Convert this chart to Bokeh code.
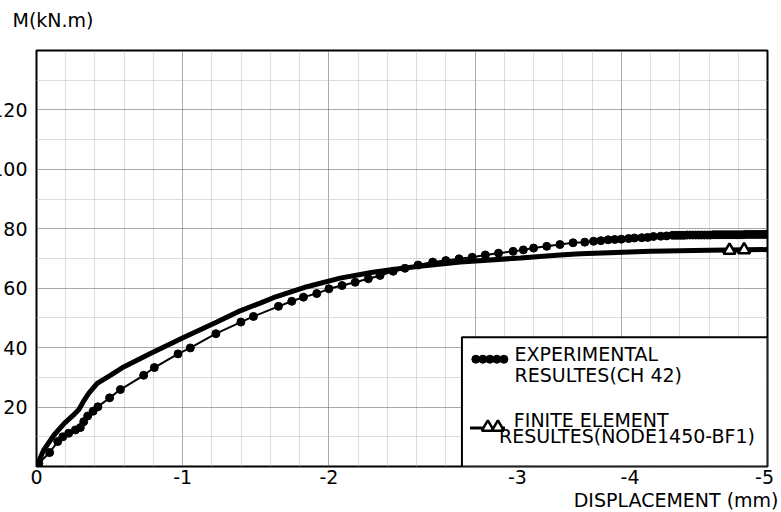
from bokeh.plotting import figure
from bokeh.models import Grid, FixedTicker, Label, LinearAxis, Title
from bokeh.embed import file_html
from bokeh.resources import INLINE

# ---------------- data ----------------
exp_x = [0, -0.016, -0.09, -0.145, -0.18, -0.22, -0.266, -0.30, -0.323, -0.35,
         -0.387, -0.42, -0.50, -0.574, -0.733, -0.806, -0.968, -1.052, -1.227,
         -1.398, -1.484, -1.655, -1.746, -1.826, -1.917, -2.00, -2.09, -2.18,
         -2.27, -2.35, -2.44, -2.52, -2.61, -2.71, -2.80, -2.89, -2.98, -3.07,
         -3.16, -3.26, -3.33, -3.40, -3.49, -3.58, -3.67, -3.75, -3.81, -3.86,
         -3.91, -3.955, -4.00, -4.05, -4.09, -4.14, -4.18, -4.22, -4.27, -4.31,
         -4.35, -4.37, -4.39, -4.41, -4.43, -4.45, -4.47, -4.49, -4.51, -4.53,
         -4.55, -4.57, -4.59, -4.61, -4.63, -4.65, -4.67, -4.69, -4.71, -4.73,
         -4.75, -4.77, -4.79, -4.81, -4.83, -4.85, -4.87, -4.89, -4.91, -4.93,
         -4.95, -4.97, -4.99]
exp_y = [0, 1.1, 4.7, 8.4, 10.0, 11.2, 12.3, 13.1, 15.1, 17.0,
         18.6, 20.1, 23.1, 25.9, 30.7, 33.3, 37.9, 39.9, 44.7,
         48.6, 50.5, 53.9, 55.6, 57.0, 58.2, 59.8, 60.9, 62.0,
         63.2, 64.3, 65.7, 66.7, 67.8, 68.8, 69.3, 69.9, 70.4, 71.2,
         71.8, 72.4, 72.9, 73.5, 74.1, 74.7, 75.3, 75.5, 75.8, 76.0,
         76.3, 76.4, 76.5, 76.7, 76.9, 77.0, 77.1, 77.4, 77.5, 77.6,
         77.8, 77.8, 77.8, 77.8, 77.8, 77.9, 77.9, 77.9, 77.9, 77.9,
         77.9, 77.9, 77.9, 77.9, 78.0, 78.0, 78.0, 78.0, 78.0, 78.0,
         78.0, 78.0, 78.0, 78.0, 78.0, 78.1, 78.1, 78.1, 78.1, 78.1,
         78.1, 78.1, 78.1]

fe_x = [0, -0.05, -0.12, -0.19, -0.25, -0.29, -0.32, -0.357, -0.415, -0.505,
        -0.596, -0.779, -1.006, -1.234, -1.393, -1.53, -1.62, -1.85, -2.077,
        -2.30, -2.49, -2.62, -2.90, -3.31, -3.58, -3.72, -4.2, -4.6, -5.0]
fe_y = [0, 5.6, 10.6, 14.5, 17.2, 19.2, 21.8, 24.6, 28.0, 30.7,
        33.5, 38.0, 43.4, 48.6, 52.4, 55.0, 56.8, 60.5, 63.4,
        65.4, 66.6, 67.4, 68.8, 70.2, 71.2, 71.6, 72.4, 72.8, 73.0]
fe_mark_x = [-4.74, -4.84]
fe_mark_y = [72.8, 72.9]

x_tick_labels = ["0", "-1", "-2", "-3", "-4", "-5"]
x_tick_label_pos = [0, -1, -2, -3.29, -4.06, -4.98]   # where the reference prints them
y_tick_values = [20, 40, 60, 80, 100, 120]

exp_name = ["EXPERIMENTAL", "RESULTES(CH 42)"]
fe_name = ["FINITE ELEMENT", "RESULTES(NODE1450-BF1)"]
x_title = "DISPLACEMENT (mm)"
y_title = "M(kN.m)"

FONT = "DejaVu Sans"
FS = "19px"
SHIFT = 13   # the reference cuts the left edge of the "120"/"100" labels

p = figure(width=781 + SHIFT, height=512, x_range=(0, -5), y_range=(0, 140),
           x_axis_type=None, y_axis_type=None,
           output_backend="svg", toolbar_location=None,
           min_border_left=36 + SHIFT, min_border_right=14,
           min_border_top=50, min_border_bottom=46)
p.styles = {"margin-left": f"-{SHIFT}px"}
p.background_fill_color = "white"
p.border_fill_color = "white"
p.outline_line_color = "black"
p.outline_line_width = 2

# ---- grids ----
x_major = [-1, -2, -3, -4]
x_minor = [-(i * 0.2) for i in range(1, 25) if i % 5]
y_major = [20, 40, 60, 80, 100, 120]
y_minor = [10, 30, 50, 70, 90, 110, 130]
for dim, maj, mnr in ((0, x_major, x_minor), (1, y_major, y_minor)):
    g = Grid(dimension=dim, ticker=FixedTicker(ticks=maj, minor_ticks=mnr))
    g.grid_line_color = "#555555"
    g.grid_line_dash = "1 1"
    g.grid_line_width = 1
    g.minor_grid_line_color = "#bbbbbb"
    g.minor_grid_line_dash = "1 1"
    g.minor_grid_line_width = 1
    p.add_layout(g)

# ---- axes ----
def style_axis(ax, size):
    ax.axis_line_color = None
    ax.major_tick_line_color = None
    ax.minor_tick_line_color = None
    ax.major_tick_in = 0
    ax.major_tick_out = 0
    ax.minor_tick_in = 0
    ax.minor_tick_out = 0
    ax.major_label_text_font = FONT
    ax.major_label_text_font_size = size
    ax.major_label_text_color = "black"

yax = LinearAxis(ticker=FixedTicker(ticks=y_tick_values))
style_axis(yax, FS)
yax.major_label_standoff = 9
p.add_layout(yax, "left")

xax = LinearAxis(ticker=FixedTicker(ticks=x_tick_label_pos),
                 major_label_overrides={pos: t for pos, t in zip(x_tick_label_pos, x_tick_labels)})
style_axis(xax, FS)
xax.major_label_standoff = 3
p.add_layout(xax, "below")

p.add_layout(Title(text=x_title, align="right", offset=-11, standoff=0,
                   text_font=FONT, text_font_size=FS, text_font_style="normal",
                   text_color="black"), "below")
# spacer next to the frame, then the y-axis title above it
p.add_layout(Title(text=" ", text_font_size="1px", standoff=17), "above")
p.add_layout(Title(text=y_title, align="left", offset=-24, standoff=0,
                   text_font=FONT, text_font_size=FS, text_font_style="normal",
                   text_color="black"), "above")

# ---- data marks ----
p.line(fe_x, fe_y, line_width=5, color="black")
p.line(exp_x, exp_y, line_width=2, color="black")
p.scatter(exp_x, exp_y, size=8, color="black")
p.scatter(fe_mark_x, fe_mark_y, marker="triangle", size=12, fill_color="white",
          line_color="black", line_width=2.5)

# ---- legend (drawn by hand: multi-line labels, row-of-dots sample) ----
p.quad(left=[-2.91], right=[-5.0], bottom=[0], top=[43.5], fill_color="white",
       line_color="black", line_width=2)
leg_dot_x = [-3.005, -3.053, -3.101, -3.149, -3.197]
p.line([leg_dot_x[0], leg_dot_x[-1]], [36.1, 36.1], line_width=2, color="black")
p.scatter(leg_dot_x, [36.1] * 5, size=8, color="black")
p.line([-2.965, -3.204], [12.95, 12.95], line_width=3, color="black")
p.scatter([-3.087, -3.156], [13.2, 13.2], marker="triangle", size=12,
          fill_color="white", line_color="black", line_width=2.5)


def lab(**kw):
    base = dict(text_font=FONT, text_font_size=FS, text_color="black",
                text_baseline="middle")
    base.update(kw)
    p.add_layout(Label(**base))


lab(x=-3.27, y=38.0, text=exp_name[0])
lab(x=-3.27, y=30.7, text=exp_name[1])
lab(x=-3.265, y=15.7, text=fe_name[0])
lab(x=-3.163, y=10.4, text=fe_name[1])

open("out.html", "w").write(file_html(p, INLINE))
